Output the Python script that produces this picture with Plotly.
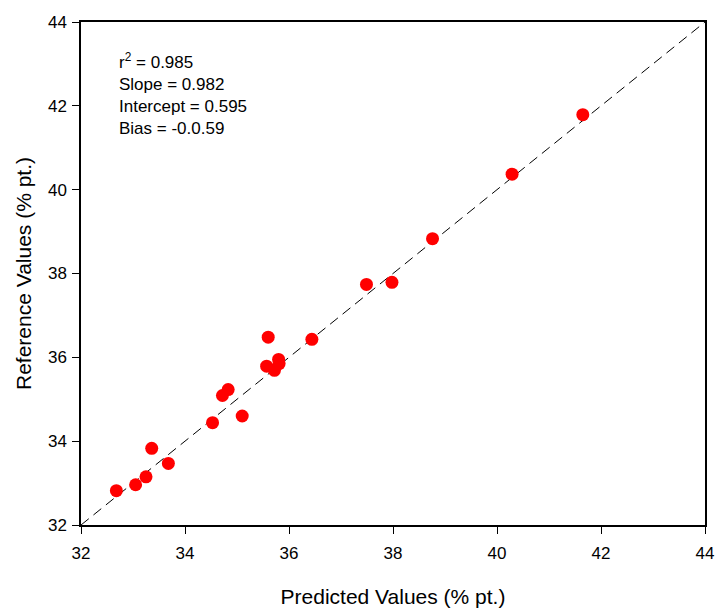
import plotly.graph_objects as go

# Predicted vs. reference values (% pt.)
predicted = [32.68, 33.05, 33.25, 33.36, 33.68, 34.53, 35.10, 34.72, 34.83,
             35.57, 35.60, 35.72, 35.80, 35.81, 36.44, 37.49, 37.98, 38.76,
             40.29, 41.65]
reference = [32.82, 32.96, 33.15, 33.83, 33.47, 34.44, 34.60, 35.09, 35.23,
             35.79, 36.48, 35.69, 35.95, 35.85, 36.43, 37.74, 37.79, 38.83,
             40.37, 41.79]

axis_range = [32, 44]
tick_vals = [32, 34, 36, 38, 40, 42, 44]
stats_lines = ["r<sup>2</sup> = 0.985", "Slope = 0.982", "Intercept = 0.595", "Bias = -0.0.59"]

font_family = "Liberation Sans, Arial, sans-serif"

fig = go.Figure()

# 1:1 line
fig.add_trace(go.Scatter(
    x=axis_range, y=axis_range, mode="lines",
    line=dict(color="black", width=1, dash="10px,6px"),
    hoverinfo="skip", showlegend=False,
))

fig.add_trace(go.Scatter(
    x=predicted, y=reference, mode="markers",
    marker=dict(color="#ff0000", size=13, line=dict(width=0)),
    showlegend=False,
))

fig.add_annotation(
    x=0.058, y=0.948, xref="paper", yref="paper",
    xanchor="left", yanchor="top", align="left",
    text="<br>".join(stats_lines), showarrow=False,
    font=dict(family=font_family, size=17, color="black"),
)

axis_common = dict(
    range=axis_range, tickvals=tick_vals, ticks="outside", ticklen=7,
    tickwidth=1, tickcolor="black", showline=True, linecolor="black",
    linewidth=1.5, mirror=True, showgrid=False, zeroline=False,
    automargin=False,
    tickfont=dict(family=font_family, size=17, color="black"),
)

fig.update_xaxes(
    **axis_common,
    ticklabelstandoff=5,
    title=dict(text="Predicted Values (% pt.)", standoff=30,
               font=dict(family=font_family, size=21, color="black")),
)
fig.update_yaxes(
    **axis_common,
    ticklabelstandoff=2,
    title=dict(text="Reference Values (% pt.)", standoff=11,
               font=dict(family=font_family, size=21, color="black")),
)

fig.update_layout(
    width=716, height=608,
    margin=dict(l=81, r=11, t=22, b=83),
    plot_bgcolor="white", paper_bgcolor="white",
)

fig.write_html("out.html")
